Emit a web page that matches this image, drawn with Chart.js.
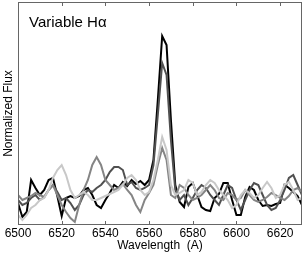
<!DOCTYPE html>
<html>
<head>
<meta charset="utf-8">
<script src="https://cdn.jsdelivr.net/npm/chart.js@4/dist/chart.umd.min.js"></script>
<style>
  html, body { margin: 0; padding: 0; background: #fff; }
  #wrap { width: 305px; height: 255px; }
</style>
</head>
<body>
<div id="wrap"><canvas id="c" width="305" height="255"></canvas></div>
<script>
const wavelengths = [6500,6502,6504,6506,6508,6510,6512,6514,6516,6518,
  6520,6522,6524,6526,6528,6530,6532,6534,6536,6538,
  6540,6542,6544,6546,6548,6550,6552,6554,6556,6558,
  6560,6562,6564,6566,6568,6570,6572,6574,6576,6578,
  6580,6582,6584,6586,6588,6590,6592,6594,6596,6598,
  6600,6602,6604,6606,6608,6610,6612,6614,6616,6618,
  6620,6622,6624,6626,6628,6630];

const fluxBlack = [0.92,0.78,0.83,1.15,1.07,1.00,1.05,1.15,1.17,0.99,
  0.79,0.97,0.99,0.97,0.99,1.05,1.07,1.00,0.90,0.87,
  0.95,1.02,1.10,1.07,1.13,1.09,1.15,1.11,1.14,1.10,
  1.15,1.35,1.95,2.59,2.50,1.75,1.10,0.93,0.88,1.08,
  1.12,1.00,0.88,0.85,0.84,0.97,1.01,1.12,1.12,0.95,
  0.80,0.80,0.98,1.08,1.05,0.95,0.89,0.90,0.89,0.91,
  0.92,1.10,1.07,1.03,0.99,0.90];

const fluxDark = [0.95,0.90,0.92,0.97,1.00,0.95,0.98,1.05,1.10,1.03,
  0.95,0.97,0.92,0.85,0.90,1.00,1.05,1.03,1.07,1.10,
  1.15,1.23,1.28,1.28,1.25,1.10,1.13,1.07,1.05,1.07,
  1.10,1.30,1.80,2.32,2.20,1.55,1.05,0.95,1.00,0.90,
  0.97,1.05,1.10,1.07,1.00,0.95,0.90,1.00,1.10,1.07,
  0.95,0.85,0.95,1.05,1.12,1.10,1.00,0.90,0.85,0.87,
  0.95,1.05,1.17,1.20,1.10,1.00];

const fluxMedium = [1.00,0.95,0.97,0.99,1.02,1.00,0.98,1.05,1.10,1.00,
  0.90,0.83,0.77,0.73,0.90,1.05,1.15,1.30,1.38,1.30,
  1.15,1.10,1.05,1.07,1.11,1.05,1.00,0.90,0.83,0.95,
  1.02,1.10,1.30,1.47,1.35,1.00,0.97,1.10,1.07,1.00,
  0.95,0.97,1.00,1.05,1.10,1.05,0.97,0.95,1.02,1.00,
  0.95,0.97,1.05,1.00,0.95,0.93,0.95,0.98,1.02,1.00,
  0.97,0.95,0.99,1.05,1.07,1.03];

const fluxLight = [0.80,0.75,0.80,0.87,0.90,0.95,0.97,1.05,1.17,1.25,
  1.30,1.20,1.05,0.97,1.00,1.03,1.00,0.95,0.95,0.97,
  0.99,1.01,1.03,1.05,1.10,1.17,1.20,1.15,1.05,1.00,
  1.03,1.15,1.35,1.58,1.45,1.10,1.00,1.02,1.05,1.15,
  1.12,1.00,1.03,1.10,1.15,1.12,1.05,1.00,0.95,0.87,
  0.90,1.00,1.05,1.02,0.97,1.00,1.07,1.13,1.07,0.97,
  1.00,1.10,1.13,1.05,0.95,0.97];

const xTickValues = [6500,6520,6540,6560,6580,6600,6620];
const titleText = 'Variable H\u03B1';
const xTitle = 'Wavelength  (A)';
const yTitle = 'Normalized Flux';

const FONT = "'Liberation Sans', Arial, Helvetica, sans-serif";

function pts(arr) { return wavelengths.map((w, i) => ({ x: w, y: arr[i] })); }

const series = [
  { data: fluxLight, color: '#c8c8c8' },
  { data: fluxMedium, color: '#858585' },
  { data: fluxDark, color: '#505050' },
  { data: fluxBlack, color: '#000000' }
];

const framePlugin = {
  id: 'frame',
  afterDatasetsDraw(chart) {
    const { ctx, chartArea: a, scales: { x } } = chart;
    ctx.save();
    ctx.strokeStyle = '#666';
    ctx.lineWidth = 1;
    ctx.strokeRect(a.left + 0.5, a.top + 0.5, a.right - a.left - 1, a.bottom - a.top - 1);
    ctx.beginPath();
    xTickValues.forEach(v => {
      const px = Math.round(x.getPixelForValue(v)) + 0.5;
      ctx.moveTo(px, a.bottom); ctx.lineTo(px, a.bottom - 4);
      ctx.moveTo(px, a.top); ctx.lineTo(px, a.top + 4);
    });
    ctx.stroke();
    ctx.fillStyle = '#000';
    ctx.font = '15px ' + FONT;
    ctx.textBaseline = 'alphabetic';
    ctx.textAlign = 'left';
    ctx.fillText(titleText, a.left + 11, a.top + 25);
    ctx.restore();
  }
};

new Chart(document.getElementById('c'), {
  type: 'line',
  data: {
    datasets: series.map(s => ({
      data: pts(s.data),
      borderColor: s.color,
      borderWidth: 2,
      pointRadius: 0,
      tension: 0,
      fill: false
    }))
  },
  options: {
    responsive: false,
    animation: false,
    events: [],
    layout: { autoPadding: false, padding: { top: 2, right: 3, left: 0, bottom: 0 } },
    plugins: { legend: { display: false }, tooltip: { enabled: false } },
    scales: {
      x: {
        type: 'linear',
        min: 6500, max: 6630,
        afterBuildTicks: (s) => { s.ticks = xTickValues.map(v => ({ value: v })); },
        afterFit: (s) => { s.height = 30; },
        grid: { display: false, drawTicks: false },
        border: { display: false },
        ticks: { color: '#000', font: { family: FONT, size: 12 }, padding: 1, maxRotation: 0, autoSkip: false,
                 callback: (v) => String(v) },
        title: { display: true, text: xTitle, color: '#000', font: { family: FONT, size: 12 }, padding: { top: 0, bottom: 2 } }
      },
      y: {
        min: 0.7, max: 2.93,
        afterFit: (s) => { s.width = 18; },
        grid: { display: false, drawTicks: false },
        border: { display: false },
        ticks: { display: false },
        title: { display: true, text: yTitle, color: '#000', font: { family: FONT, size: 12 }, padding: { top: 1, bottom: 0 } }
      }
    }
  },
  plugins: [framePlugin]
});
</script>
</body>
</html>
